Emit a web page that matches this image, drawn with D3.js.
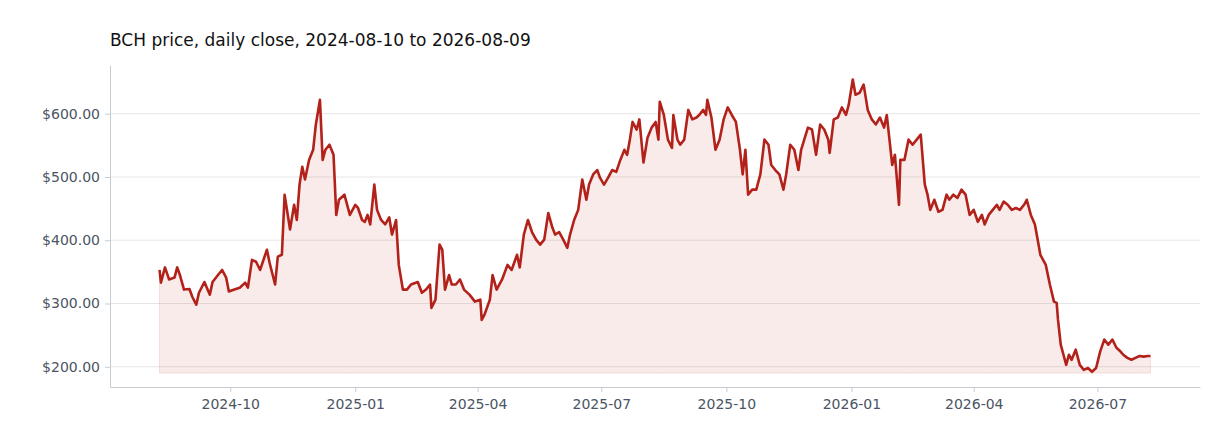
<!DOCTYPE html>
<html>
<head>
<meta charset="utf-8">
<script src="https://cdn.jsdelivr.net/npm/d3@7"></script>
<style>
  body { margin: 0; background: #fff; font-family: "DejaVu Sans", sans-serif; }
</style>
</head>
<body>
<svg id="chart" width="1232" height="448"></svg>
<script>
// daily closes (days since 2024-08-10)
const startDate = "2024-08-10";
const endDate = "2026-08-09";
const dayOffsets = [0,1,4,7,11,13,15,18,22,24,27,29,33,37,39,43,46,49,51,55,59,63,65,68,71,74,76,79,81,85,87,90,92,96,99,101,103,105,107,110,113,115,118,120,122,125,128,130,132,136,140,144,146,149,151,153,155,158,160,163,166,169,171,174,176,179,182,185,190,193,196,199,200,203,206,208,210,213,215,218,221,224,228,232,236,237,239,243,245,248,252,256,259,263,265,268,271,274,277,280,283,286,289,291,294,297,300,302,305,308,311,314,316,319,322,324,327,330,333,336,339,342,344,346,348,351,353,356,359,362,365,367,368,371,374,377,378,381,383,386,389,392,395,397,400,402,403,406,409,412,415,418,421,424,427,429,431,433,436,439,442,445,448,450,453,456,459,461,464,467,470,472,477,480,483,486,489,492,493,496,499,502,505,507,510,512,515,518,521,524,527,530,533,535,537,539,541,544,545,548,551,554,557,560,563,565,567,570,573,576,579,581,584,587,590,593,596,599,602,605,607,610,613,616,618,621,624,627,630,633,636,638,641,644,646,648,650,652,655,658,660,661,663,665,667,669,671,674,677,680,683,686,689,692,695,698,701,704,707,709,712,715,718,721,724,727,729];
const closes = [353,333,357,338,341,357,345,322,323,311,298,317,334,314,334,345,353,341,319,322,325,333,325,369,366,353,366,385,364,330,374,377,472,417,456,432,488,516,496,527,543,583,622,527,543,551,535,440,464,472,440,456,451,432,429,440,425,488,448,432,425,436,409,432,361,322,322,330,334,317,322,330,293,306,393,385,322,345,330,330,338,322,314,303,306,274,282,306,345,322,338,361,353,377,357,409,432,413,401,393,401,443,420,409,413,401,388,409,432,448,496,464,488,504,511,499,488,499,511,508,527,543,535,559,587,575,591,523,562,578,587,559,619,598,559,546,598,559,551,559,606,591,594,598,606,598,622,594,543,559,591,610,598,587,543,504,543,472,480,480,504,559,551,519,511,504,480,504,551,543,511,543,578,575,535,583,575,559,538,591,594,610,598,614,654,630,633,646,606,591,583,594,578,598,559,519,535,456,527,527,559,551,559,567,488,472,448,464,445,448,472,464,472,467,480,472,440,448,429,440,425,440,448,456,448,461,456,448,451,448,456,464,440,425,401,377,369,361,330,303,301,274,235,219,203,219,211,227,203,195,198,192,198,224,243,235,243,230,224,219,214,211,214,217,216,217,217];
const yTicks = [200, 300, 400, 500, 600];
const areaBase = 190;

const W = 1232, H = 448;
const margin = { top: 65, right: 32, bottom: 61, left: 110 };
const lineColor = "#b2221b";

const parse = d3.utcParse("%Y-%m-%d");
const t0 = parse(startDate);
const t1 = parse(endDate);
const data = dayOffsets.map((d, i) => ({ date: d3.utcDay.offset(t0, d), close: closes[i] }));

const svg = d3.select("#chart");

const span = t1 - t0;
const x = d3.scaleUtc()
  .domain([new Date(+t0 - span * 0.05), new Date(+t1 + span * 0.05)])
  .range([margin.left, W - margin.right]);
const y = d3.scaleLinear()
  .domain([168, 677])
  .range([H - margin.bottom, margin.top]);

svg.append("text")
  .attr("x", margin.left).attr("y", 46)
  .attr("font-size", 17).attr("fill", "#111")
  .text("BCH price, daily close, 2024-08-10 to 2026-08-09");

// grid
svg.append("g").selectAll("line").data(yTicks).join("line")
  .attr("x1", margin.left).attr("x2", W - margin.right)
  .attr("y1", d => y(d)).attr("y2", d => y(d))
  .attr("stroke", "#e6e6e6").attr("stroke-width", 1);

const area = d3.area()
  .x(d => x(d.date)).y0(y(areaBase)).y1(d => y(d.close));
svg.append("path").datum(data)
  .attr("d", area)
  .attr("fill", lineColor).attr("fill-opacity", 0.09)
  .attr("stroke", lineColor).attr("stroke-opacity", 0.12);

const line = d3.line().x(d => x(d.date)).y(d => y(d.close));
svg.append("path").datum(data)
  .attr("d", line)
  .attr("fill", "none").attr("stroke", lineColor)
  .attr("stroke-width", 2.6).attr("stroke-linejoin", "round");

const axisColor = "#c8ccd2", labelColor = "#4b5563";

const yAxis = svg.append("g")
  .attr("transform", `translate(${margin.left},0)`)
  .call(d3.axisLeft(y).tickValues(yTicks).tickSize(5).tickSizeOuter(0).tickPadding(5).tickFormat(d => "$" + d3.format(".2f")(d)));
const xAxis = svg.append("g")
  .attr("transform", `translate(0,${H - margin.bottom})`)
  .call(d3.axisBottom(x).ticks(d3.utcMonth.every(3)).tickSize(5).tickSizeOuter(0).tickPadding(7).tickFormat(d3.utcFormat("%Y-%m")));

[yAxis, xAxis].forEach(g => {
  g.select(".domain").attr("stroke", axisColor);
  g.selectAll(".tick line").attr("stroke", axisColor);
  g.selectAll(".tick text").attr("fill", labelColor).attr("font-size", 14)
    .attr("font-family", "DejaVu Sans, sans-serif");
});
</script>
</body>
</html>
